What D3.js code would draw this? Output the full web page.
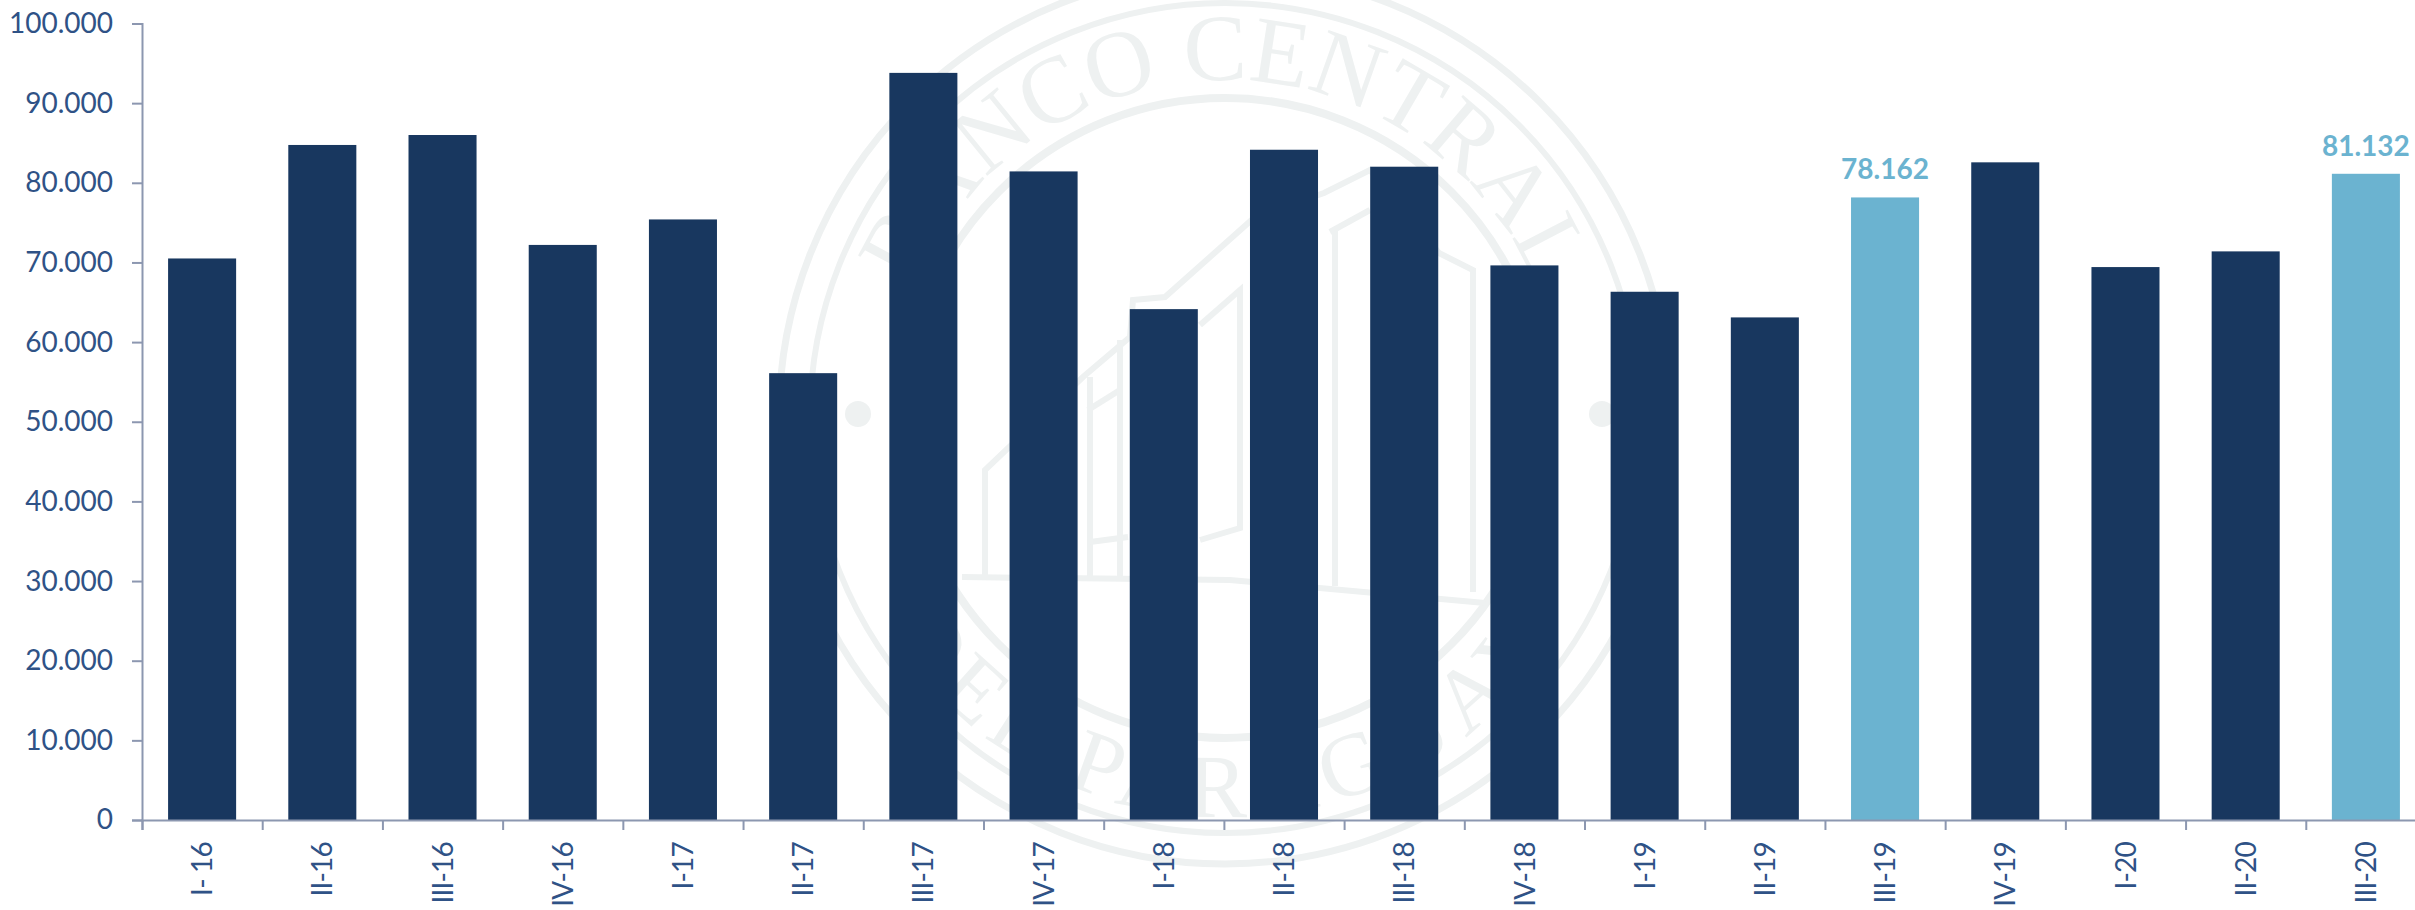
<!DOCTYPE html>
<html>
<head>
<meta charset="utf-8">
<script src="https://cdnjs.cloudflare.com/ajax/libs/d3/7.8.5/d3.min.js"></script>
<style>
html, body { margin: 0; padding: 0; background: #fff; overflow: hidden; }
svg { display: block; }
text { font-family: Lato, sans-serif; }
</style>
</head>
<body>
<svg id="chart"></svg>
<script>
const quarters = ['I- 16','II-16','III-16','IV-16','I-17','II-17','III-17','IV-17','I-18','II-18','III-18','IV-18','I-19','II-19','III-19','IV-19','I-20','II-20','III-20']
const values = [70500,84750,86000,72200,75400,56100,93800,81430,64140,84150,82020,69630,66320,63100,78162,82570,69420,71390,81132]
const highlighted = ['III-19','III-20']
const yTicks = [0,10000,20000,30000,40000,50000,60000,70000,80000,90000,100000]

const width = 2415
const height = 910
const navy = '#18375f'
const lightBlue = '#6bb3d0'
const textBlue = '#2f5286'
const axisGrey = '#8c97b0'
const sealGrey = '#eef1f1'

const $svg = d3.select('#chart').attr('width', width).attr('height', height)
const $gSeal = $svg.append('g').attr('class', 'g-seal')
const $gViz = $svg.append('g').attr('class', 'g-viz')
const $gAxes = $svg.append('g').attr('class', 'g-axes')

const scaleX = d3.scaleBand()
	.domain(quarters)
	.range([142, 2426])
	.paddingInner(0.434)
	.paddingOuter(0.217)

const scaleY = d3.scaleLinear()
	.domain([0, 100000])
	.range([820, 23.5])

const formatThousands = d => d3.format(',')(d).replace(/,/g, '.')

// watermark behind the bars, not data
function drawSeal() {
	const cx = 1225
	const cy = 418
	const rings = [[446, 7], [415, 6], [320, 8]]
	$gSeal.selectAll('circle.ring')
		.data(rings)
		.enter()
		.append('circle')
		.attr('class', 'ring')
		.attr('cx', cx)
		.attr('cy', cy)
		.attr('r', d => d[0])
		.attr('fill', 'none')
		.attr('stroke', sealGrey)
		.attr('stroke-width', d => d[1])

	$gSeal.append('path')
		.attr('id', 'seal-top')
		.attr('fill', 'none')
		.attr('d', `M ${cx - 338} ${cy} A 338 338 0 0 1 ${cx + 338} ${cy}`)
	$gSeal.append('path')
		.attr('id', 'seal-bottom')
		.attr('fill', 'none')
		.attr('d', `M ${cx - 399} ${cy} A 399 399 0 0 0 ${cx + 399} ${cy}`)

	$gSeal.append('text')
		.attr('fill', sealGrey)
		.style('font-family', 'Liberation Serif, serif')
		.style('font-size', '95px')
		.append('textPath')
		.attr('href', '#seal-top')
		.attr('startOffset', '50%')
		.attr('text-anchor', 'middle')
		.text('BANCO CENTRAL')

	$gSeal.append('text')
		.attr('fill', sealGrey)
		.style('font-family', 'Liberation Serif, serif')
		.style('font-size', '90px')
		.style('letter-spacing', '10px')
		.append('textPath')
		.attr('href', '#seal-bottom')
		.attr('startOffset', '50%')
		.attr('text-anchor', 'middle')
		.text('DEL PARAGUAY')

	// the two dots between the words
	$gSeal.selectAll('circle.dot')
		.data([858, 1602])
		.enter()
		.append('circle')
		.attr('class', 'dot')
		.attr('cx', d => d)
		.attr('cy', 414)
		.attr('r', 13)
		.attr('fill', sealGrey)

	// building outline
	const building = [
		[[985, 575], [985, 470], [1083, 377], [1130, 337], [1133, 300], [1165, 297], [1255, 217], [1324, 193], [1370, 170], [1439, 253], [1473, 270], [1473, 592]],
		[[1088, 410], [1120, 390]],
		[[1090, 377], [1090, 577]],
		[[1120, 340], [1120, 577]],
		[[1090, 542], [1128, 537]],
		[[1200, 325], [1240, 290], [1240, 528], [1200, 540]],
		[[1335, 230], [1335, 586]],
		[[1330, 232], [1370, 210]],
		[[962, 577], [1230, 580], [1485, 603]]
	]
	$gSeal.selectAll('path.building')
		.data(building)
		.enter()
		.append('path')
		.attr('class', 'building')
		.attr('d', d3.line())
		.attr('fill', 'none')
		.attr('stroke', sealGrey)
		.attr('stroke-width', 6)
}

function drawBars() {
	$gViz.selectAll('rect.bar')
		.data(quarters)
		.enter()
		.append('rect')
		.attr('class', 'bar')
		.attr('x', d => scaleX(d))
		.attr('width', scaleX.bandwidth())
		.attr('y', (d, i) => scaleY(values[i]))
		.attr('height', (d, i) => scaleY(0) - scaleY(values[i]))
		.attr('fill', d => highlighted.includes(d) ? lightBlue : navy)

	$gViz.selectAll('text.value')
		.data(highlighted)
		.enter()
		.append('text')
		.attr('class', 'value')
		.attr('x', d => scaleX(d) + scaleX.bandwidth() / 2)
		.attr('y', d => scaleY(values[quarters.indexOf(d)]) - 18)
		.attr('text-anchor', 'middle')
		.attr('fill', lightBlue)
		.style('font-size', '28px')
		.style('font-weight', 700)
		.text(d => formatThousands(values[quarters.indexOf(d)]))
}

function drawAxes() {
	const axisY = d3.axisLeft(scaleY)
		.tickValues(yTicks)
		.tickFormat(formatThousands)
		.tickSize(10)
		.tickPadding(19)

	const $y = $gAxes.append('g')
		.attr('class', 'axis-y')
		.attr('transform', 'translate(142,0)')
		.call(axisY)

	// category ticks sit between the bars, so they come from a point scale on the band edges
	const edges = d3.range(quarters.length + 1)
	const scaleEdge = d3.scalePoint().domain(edges).range(scaleX.range())
	const axisEdge = d3.axisBottom(scaleEdge)
		.tickValues(edges)
		.tickSize(10)
		.tickFormat('')

	$gAxes.append('g')
		.attr('class', 'axis-edge')
		.attr('transform', 'translate(0,820)')
		.call(axisEdge)

	const axisX = d3.axisBottom(scaleX).tickSize(0).tickPadding(0)
	const $x = $gAxes.append('g')
		.attr('class', 'axis-x')
		.attr('transform', 'translate(0,820)')
		.call(axisX)
	$x.select('.domain').remove()
	$x.selectAll('text')
		.attr('text-anchor', 'end')
		.attr('transform', 'translate(0,22) rotate(-90)')
		.attr('x', 0)
		.attr('y', 0)
		.attr('dy', '0.36em')
		.style('letter-spacing', '-0.8px')

	$gAxes.selectAll('.domain, .tick line')
		.attr('stroke', axisGrey)
		.attr('stroke-width', 2)

	$gAxes.selectAll('text')
		.attr('fill', textBlue)
		.style('font-family', 'Lato, sans-serif')
		.style('font-size', '28px')
}

drawSeal()
drawBars()
drawAxes()
</script>
</body>
</html>
